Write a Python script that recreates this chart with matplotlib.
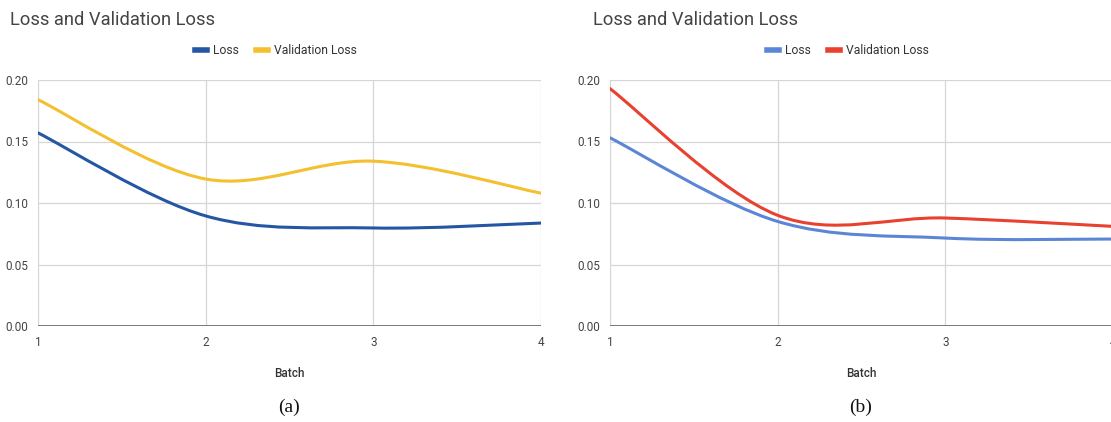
import matplotlib
matplotlib.use("Agg")
from matplotlib import pyplot as plt
from matplotlib.path import Path
from matplotlib.patches import PathPatch
from matplotlib.lines import Line2D

plt.rcParams['font.family'] = ['Roboto', 'DejaVu Sans']

batches = [1, 2, 3, 4]

loss_a = [0.157, 0.0895, 0.0797, 0.0837]
val_loss_a = [0.184, 0.1195, 0.134, 0.108]

loss_b = [0.153, 0.085, 0.0715, 0.0707]
val_loss_b = [0.193, 0.090, 0.0878, 0.081]

y_ticks = [0.00, 0.05, 0.10, 0.15, 0.20]
panel_labels = ['(a)', '(b)']
title = 'Loss and Validation Loss'
series_names = ['Loss', 'Validation Loss']


def smooth_path(xs, ys):
    # cubic bezier through the points, catmull-rom style control points
    pts = list(zip(xs, ys))
    n = len(pts)
    verts = [pts[0]]
    codes = [Path.MOVETO]
    for i in range(n - 1):
        p0 = pts[max(i - 1, 0)]
        p1 = pts[i]
        p2 = pts[i + 1]
        p3 = pts[min(i + 2, n - 1)]
        c1 = (p1[0] + (p2[0] - p0[0]) / 6, p1[1] + (p2[1] - p0[1]) / 6)
        c2 = (p2[0] - (p3[0] - p1[0]) / 6, p2[1] - (p3[1] - p1[1]) / 6)
        verts += [c1, c2, p2]
        codes += [Path.CURVE4] * 3
    return Path(verts, codes)


def draw_panel(fig, left_px, title_px, series, colors, label):
    W, H = 1111, 422
    ax = fig.add_axes([left_px / W, 1 - 326 / H, 503 / W, 246 / H])
    ax.set_xlim(1, 4)
    ax.set_ylim(0, 0.2)
    for s in ax.spines.values():
        s.set_visible(False)
    ax.set_yticks(y_ticks)
    ax.set_yticklabels([f'{t:.2f}' for t in y_ticks])
    ax.set_xticks(batches)
    ax.tick_params(length=0, labelsize=8.5, colors='#444444')
    ax.tick_params(axis='y', pad=7)
    ax.tick_params(axis='x', pad=7)
    ax.grid(True, color='#d6d6d6', lw=0.9)
    ax.set_axisbelow(True)
    ax.axhline(0, color='#555555', lw=1.8, zorder=2)

    handles = []
    for ys, c, name in zip(series, colors, series_names):
        ax.add_patch(PathPatch(smooth_path(batches, ys), fill=False,
                               edgecolor=c, lw=2.2, zorder=3,
                               capstyle='round'))
        handles.append(Line2D([], [], color=c, lw=4, label=name))

    ax.set_xlabel('Batch', fontsize=8.5, color='#333333', labelpad=13,
                  fontweight='medium')

    fig.text(title_px / W, 1 - 20 / H, title, fontsize=13.2,
             color='#444444', va='center', ha='left')
    fig.legend(handles=handles, loc='center',
               bbox_to_anchor=((left_px + 238) / W, 1 - 51 / H),
               ncol=2, frameon=False, fontsize=8.7, handlelength=1.0,
               handletextpad=0.5, columnspacing=1.4, labelcolor='#333333')
    fig.text((left_px + 251) / W, 1 - 407 / H, label, fontsize=14,
             family='Liberation Serif', ha='center', va='center',
             color='#111111')
    return ax


fig = plt.figure(figsize=(11.11, 4.22), dpi=100)
draw_panel(fig, 38, 10, [loss_a, val_loss_a], ['#2556a3', '#f4c02f'], panel_labels[0])
draw_panel(fig, 610, 593, [loss_b, val_loss_b], ['#5b86d6', '#e8412f'], panel_labels[1])

fig.savefig('out.png', dpi=100)
